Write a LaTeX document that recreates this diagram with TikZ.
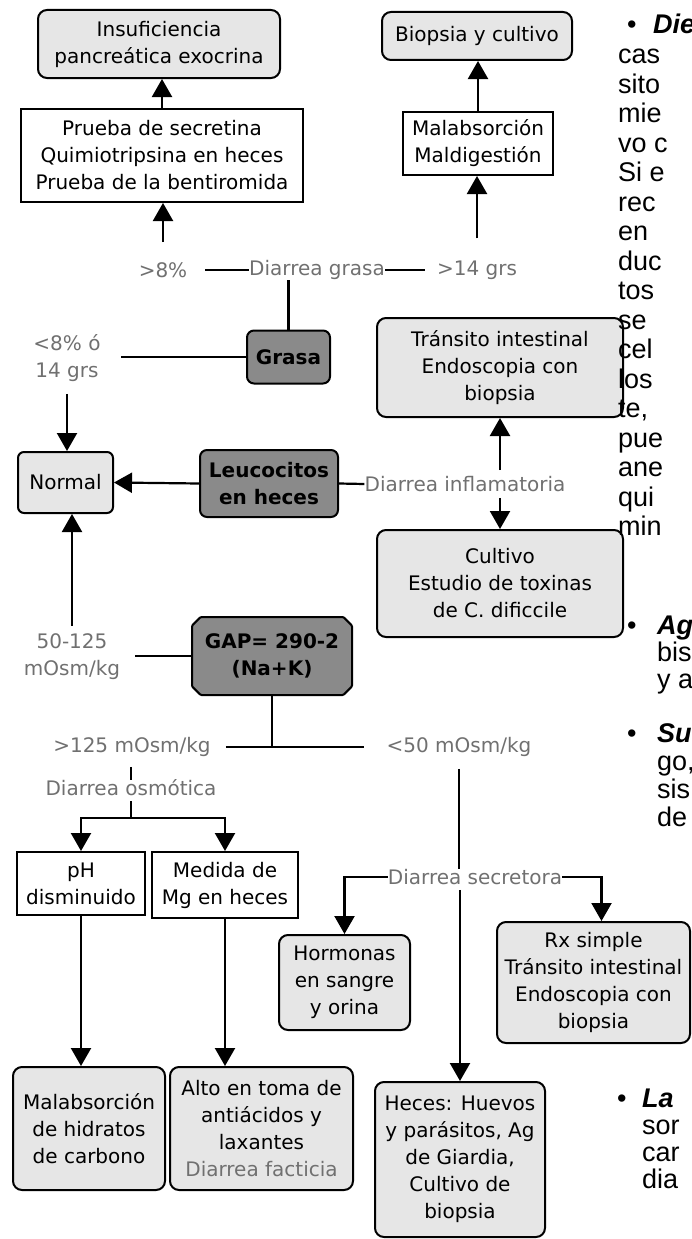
\documentclass[tikz,border=0pt]{standalone}
\usepackage{fontspec}
\setmainfont{DejaVu Sans}
\newfontfamily\slidefont{Liberation Sans}
\usetikzlibrary{arrows.meta,shapes.misc,positioning}

\definecolor{boxlight}{HTML}{E6E6E6}
\definecolor{boxdark}{HTML}{8A8A8A}
\definecolor{labelgray}{HTML}{707070}

\tikzset{
  base/.style={draw=black, line width=2pt, align=center, inner sep=2pt,
    font=\fontsize{20}{27}\selectfont},
  lightbox/.style={base, fill=boxlight, rounded corners=9pt},
  whitebox/.style={base, fill=white},
  darkbox/.style={base, fill=boxdark, rounded corners=7pt,
    font=\fontsize{20}{27}\selectfont\bfseries},
  lbl/.style={text=labelgray, align=center, inner sep=0pt,
    font=\fontsize{20}{27}\selectfont},
  ln/.style={line width=2.2pt},
  arr/.style={ln, -{Triangle[length=18pt,width=20pt]}},
  slide/.style={anchor=base west, inner sep=0pt, font=\fontsize{27}{29}\slidefont},
}

\begin{document}
\begin{tikzpicture}[x=1pt,y=-1pt]
  \useasboundingbox (0,0) rectangle (692,1239);

  % diarrea grasa
  \node[lightbox, minimum width=242pt, minimum height=68pt] (insuf) at (159,44) {Insuficiencia\\pancreática exocrina};
  \node[whitebox, minimum width=282pt, minimum height=93pt] (pruebas) at (162,155.5) {Prueba de secretina\\Quimiotripsina en heces\\Prueba de la bentiromida};
  \node[lightbox, minimum width=190pt, minimum height=48pt] (biopsia) at (477,36) {Biopsia y cultivo};
  \node[whitebox, minimum width=150pt, minimum height=63pt] (malab) at (478,143.5) {Malabsorción\\Maldigestión};
  \node[lbl] (gt8) at (163,270) {>8\%};
  \node[lbl] (dgrasa) at (317,270) {Diarrea grasa};
  \node[lbl] (gt14) at (477,270) {>14 grs};
  \node[darkbox, minimum width=83pt, minimum height=53pt] (grasa) at (288.5,357) {Grasa};
  \node[lbl] (lt8) at (67,358) {<8\% ó\\14 grs};

  \draw[arr] (pruebas.north) -- (pruebas.north |- insuf.south);
  \draw[arr, shorten <=20pt] (gt8.north) -- (gt8.north |- pruebas.south);
  \draw[ln, shorten <=18pt] (gt8.east) -- (dgrasa.west);
  \draw[ln, shorten >=12pt] (dgrasa.east) -- (gt14.west);
  \draw[arr, shorten <=22pt] (gt14.north) -- (gt14.north |- malab.south);
  \draw[arr] (malab.north) -- (malab.north |- biopsia.south);
  \draw[ln] (grasa.north) -- (grasa.north |- dgrasa.south);
  \draw[ln, shorten >=20pt] (grasa.west) -- (grasa.west -| lt8.east);

  % diarrea inflamatoria
  \node[lightbox, rounded corners=6pt, minimum width=95pt, minimum height=61pt] (normal) at (65.5,482.5) {Normal};
  \node[darkbox, minimum width=138pt, minimum height=67pt] (leuco) at (269,483.5) {Leucocitos\\en heces};
  \node[lbl] (dinfl) at (465,484) {Diarrea inflamatoria};
  \node[lightbox, minimum width=246pt, minimum height=99pt] (transito) at (500,367.5) {Tránsito intestinal\\Endoscopia con\\biopsia};
  \node[lightbox, minimum width=246pt, minimum height=107pt] (cultivo) at (500,583.5) {Cultivo\\Estudio de toxinas\\de C. dificcile};

  \draw[arr, shorten <=12pt] (lt8.south) -- (lt8.south |- normal.north);
  \draw[arr] (leuco.west) -- (normal.east);
  \draw[ln] (leuco.east) -- (dinfl.west);
  \draw[arr, shorten <=6pt] (dinfl.north -| transito.south) -- (transito.south);
  \draw[arr, shorten <=6pt] (dinfl.south -| cultivo.north) -- (cultivo.north);

  % diarrea osmotica
  \node[darkbox, chamfered rectangle, chamfered rectangle xsep=5pt, rounded corners=1pt, minimum width=160pt, minimum height=78pt] (gap) at (272,656) {GAP= 290-2\\(Na+K)};
  \node[lbl] (r50) at (72,657) {50-125\\mOsm/kg};
  \node[lbl] (gt125) at (132,747) {>125 mOsm/kg};
  \node[lbl] (lt50) at (459,747) {<50 mOsm/kg};
  \node[lbl] (dosm) at (131,788) {Diarrea osmótica};
  \node[whitebox, minimum width=128pt, minimum height=63pt] (ph) at (81,883.5) {pH\\disminuido};
  \node[whitebox, minimum width=146pt, minimum height=66pt] (medida) at (225,885) {Medida de\\Mg en heces};
  \node[lightbox, minimum width=152pt, minimum height=123pt] (malhc) at (89,1128.5) {Malabsorción\\de hidratos\\de carbono};
  \node[lightbox, minimum width=183pt, minimum height=123pt] (alto) at (261.5,1128.5) {Alto en toma de\\antiácidos y\\laxantes\\\textcolor{labelgray}{Diarrea facticia}};
  \coordinate (osmsplit) at (131,818);

  \draw[arr, shorten <=8pt] (r50.north) -- (r50.north |- normal.south);
  \draw[ln, shorten >=15pt] (gap.west) -- (gap.west -| r50.east);
  \draw[ln] (gap.south) -- (gap.south |- gt125.east);
  \draw[ln, shorten <=15pt, shorten >=22pt] (gt125.east) -- (lt50.west);
  \draw[ln, shorten <=10pt] (gt125.south -| dosm.north) -- (dosm.north);
  \draw[ln, shorten <=5pt] (dosm.south) -- (osmsplit);
  \draw[arr] (osmsplit) -| (ph.north);
  \draw[arr] (osmsplit) -| (medida.north);
  \draw[arr] (ph.south) -- (ph.south |- malhc.north);
  \draw[arr] (medida.south) -- (medida.south |- alto.north);

  % diarrea secretora
  \node[lbl] (dsec) at (475,877) {Diarrea secretora};
  \node[lightbox, minimum width=131pt, minimum height=95pt] (hormonas) at (344.5,982.5) {Hormonas\\en sangre\\y orina};
  \node[lightbox, minimum width=193pt, minimum height=121pt] (rx) at (593.5,982.5) {Rx simple\\Tránsito intestinal\\Endoscopia con\\biopsia};
  \node[lightbox, minimum width=170pt, minimum height=155pt] (heces) at (460,1159.5) {Heces: Huevos\\y parásitos, Ag\\de Giardia,\\Cultivo de\\biopsia};

  \draw[ln, shorten <=12pt] (lt50.south) -- (lt50.south |- dsec.north);
  \draw[arr] (dsec.west) -| (hormonas.north);
  \draw[arr] (dsec.east) -| ([xshift=8pt]rx.north);
  \draw[arr, shorten <=5pt] (dsec.south -| heces.north) -- (heces.north);

  % texto cortado a la derecha
  \begin{scope}
    \clip (0,0) rectangle (692,1239);
    \node[slide] at (627,34) {•};
    \node[slide] at (653,34) {\bfseries\itshape Die};
    \foreach \w [count=\i] in {cas,sito,mie,vo c,Si e,rec,en,duc,tos,se,cel,los,{te,},pue,ane,qui,min}
      \node[slide] at (618,34+29.5*\i) {\w};
    \node[slide] at (627,634) {•};
    \node[slide] at (657,634) {\bfseries\itshape Ag};
    \node[slide] at (657,661) {bis};
    \node[slide] at (657,688) {y a};
    \node[slide] at (627,742) {•};
    \node[slide] at (657,742) {\bfseries\itshape Su};
    \foreach \w [count=\i] in {{go,},sis,de}
      \node[slide] at (657,742+28*\i) {\w};
    \node[slide] at (617,1107) {•};
    \node[slide] at (642,1107) {\bfseries\itshape La};
    \foreach \w [count=\i] in {sor,car,dia}
      \node[slide] at (642,1107+27*\i) {\w};
  \end{scope}
\end{tikzpicture}
\end{document}
